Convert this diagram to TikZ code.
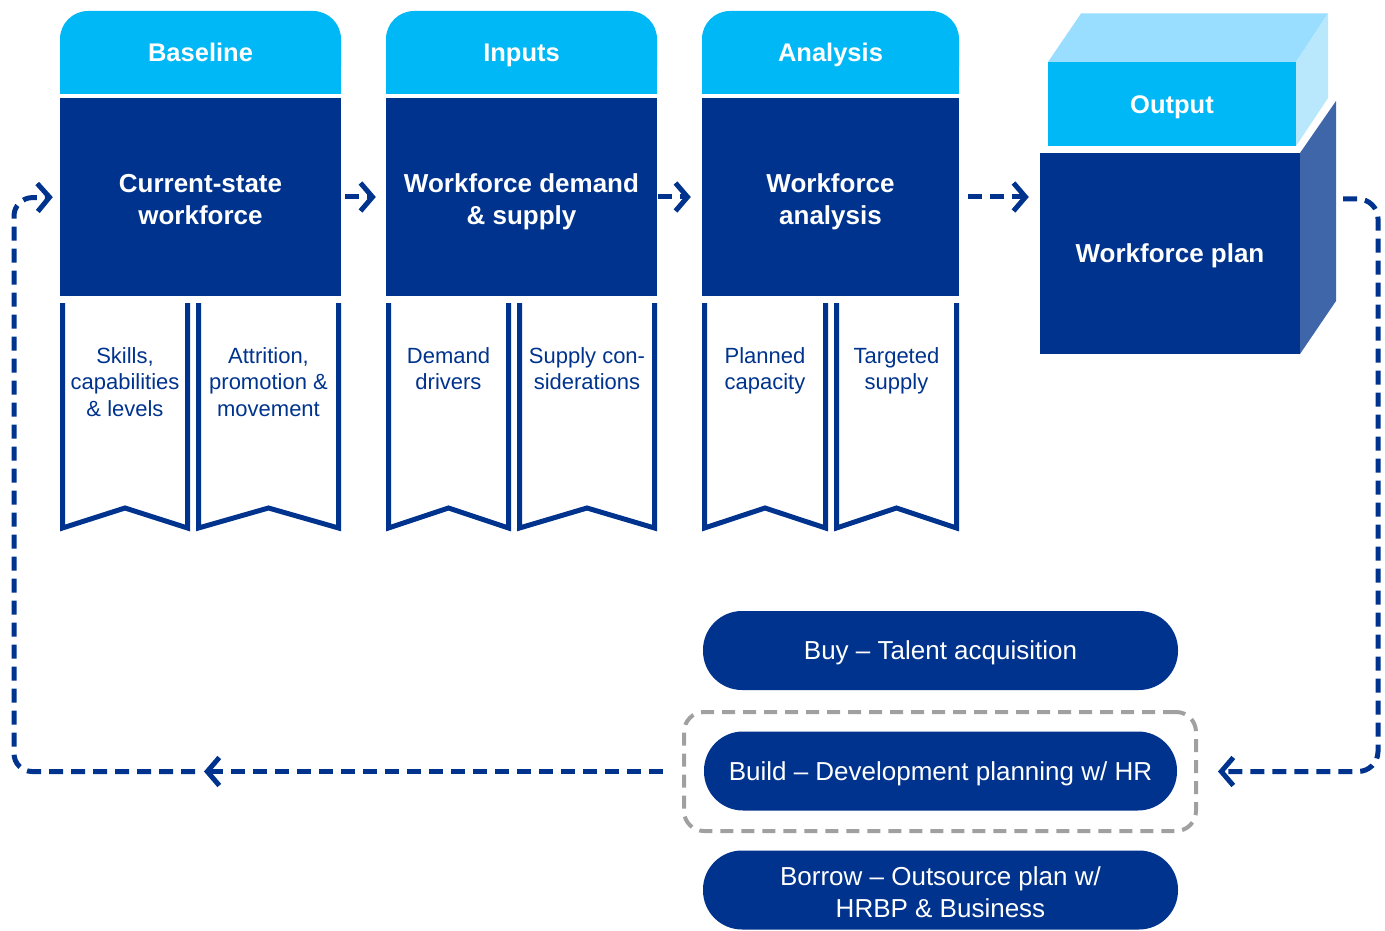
\documentclass[tikz,border=0pt]{standalone}
\usepackage{fontspec}
\setmainfont{Liberation Sans}
\usetikzlibrary{arrows.meta}
\definecolor{kcyan}{HTML}{00B8F5}
\definecolor{kblue}{HTML}{00338D}
\definecolor{ktop}{HTML}{99DDFF}
\definecolor{kside}{HTML}{B9E7FC}
\definecolor{kplanside}{HTML}{4066AA}
\definecolor{kgray}{HTML}{A0A0A0}
\begin{document}
\begin{tikzpicture}[x=1pt,y=-1pt,
 tab/.style={fill=kcyan, rounded corners=28pt, minimum height=83pt, inner sep=0pt, text=white, font=\bfseries\fontsize{25.5}{32}\selectfont, text height=18.5pt, text depth=0pt},
 dbox/.style={fill=kblue, minimum height=198pt, inner sep=0pt, text=white, align=center, font=\bfseries\fontsize{26}{32}\selectfont},
 ribbon/.style={draw=kblue, line width=5pt, miter limit=10},
 rtext/.style={anchor=north, inner sep=0pt, align=center, text=kblue, font=\fontsize{22}{26.5}\selectfont},
 pill/.style={fill=kblue, rounded corners=39pt, minimum width=475pt, minimum height=79pt, inner sep=0pt, text=white, align=center, font=\fontsize{26}{32}\selectfont},
 pillone/.style={pill, text height=18.5pt, text depth=0pt},
 flow/.style={draw=kblue, line width=5pt, dash pattern=on 14pt off 8pt, -{Straight Barb[length=12pt,width=28pt]}},
 grayframe/.style={draw=kgray, line width=4pt, dash pattern=on 13pt off 8pt, rounded corners=20pt, minimum width=512pt, minimum height=119pt, inner sep=0pt},
]
\useasboundingbox (0,0) rectangle (1385,931);

% ---------- Baseline column
\fill[kcyan] (60,52) rectangle (341,94);
\node[tab, minimum width=281pt] (t1) at (200.5,52.5) {Baseline};
\node[dbox, minimum width=281pt] (b1) at (200.5,197) {\strut Current-state\\\smash{workforce}};
\draw[ribbon] (62.5,303) -- (62.5,528) -- (125,508) -- (187.5,528) -- (187.5,303);
\node[rtext] (s1) at (125,347) {Skills,\\capabilities\\\& levels};
\draw[ribbon] (198.5,303) -- (198.5,528) -- (268.5,508) -- (338.5,528) -- (338.5,303);
\node[rtext] (s2) at (268.5,347) {Attrition,\\promotion \&\\movement};

% ---------- Inputs column
\fill[kcyan] (386,52) rectangle (657,94);
\node[tab, minimum width=271pt] (t2) at (521.5,52.5) {Inputs};
\node[dbox, minimum width=271pt] (b2) at (521.5,197) {\strut Workforce demand\\\smash{\& supply}};
\draw[ribbon] (388.5,303) -- (388.5,528) -- (448.5,508) -- (508.5,528) -- (508.5,303);
\node[rtext] (s3) at (448.5,347) {Demand\\drivers};
\draw[ribbon] (519.5,303) -- (519.5,528) -- (587,508) -- (654.5,528) -- (654.5,303);
\node[rtext] (s4) at (587,347) {Supply con-\\siderations};

% ---------- Analysis column
\fill[kcyan] (702,52) rectangle (959,94);
\node[tab, minimum width=257pt] (t3) at (830.5,52.5) {Analysis};
\node[dbox, minimum width=257pt] (b3) at (830.5,197) {\strut Workforce\\\smash{analysis}};
\draw[ribbon] (704.5,303) -- (704.5,528) -- (765,508) -- (825.5,528) -- (825.5,303);
\node[rtext] (s5) at (765,347) {Planned\\capacity};
\draw[ribbon] (836.5,303) -- (836.5,528) -- (896.5,508) -- (956.5,528) -- (956.5,303);
\node[rtext] (s6) at (896.5,347) {Targeted\\supply};

% ---------- Output block
\fill[ktop] (1048,62) -- (1081,13.5) -- (1328,13.5) -- (1296,62) -- cycle;
\fill[kside] (1296,62) -- (1328,13.5) -- (1328,98) -- (1296,146) -- cycle;
\node[tab, rounded corners=0pt, minimum width=248pt, minimum height=84pt] (out) at (1172,104) {Output};
\fill[kplanside] (1300,153) -- (1336,101) -- (1336,301) -- (1300,354) -- cycle;
\node[dbox, minimum width=260pt, minimum height=201pt, text height=18.5pt, text depth=0pt] (plan) at (1170,253.5) {Workforce plan};

% ---------- Options
\node[pillone] (buy) at (940.5,650.5) {Buy -- Talent acquisition};
\node[grayframe] (gray) at (940,771.5) {};
\node[pillone, minimum width=473pt] (build) at (940.5,771) {Build -- Development planning w/ HR};
\node[pill, text height=54.5pt, text depth=0pt] (borrow) at (940.5,890) {Borrow -- Outsource plan w/\\HRBP \& Business};

% ---------- Flow connectors
\draw[flow, shorten <=4pt, shorten >=10pt] (b1.east) -- (b2.west);
\draw[flow, shorten <=1pt, shorten >=11pt] (b2.east) -- (b3.west);
\draw[flow, shorten <=9pt, shorten >=11pt] (b3.east) -- (b3.east -| plan.west);

\coordinate (rs) at (1343,199);
\coordinate (mid) at (204,771.5);
\draw[flow, rounded corners=20pt, shorten >=20pt] (rs) -- (1378,199) -- (1378,771.5) -- (gray.east);
\draw[flow, shorten <=19pt] (gray.west) -- (mid);
\draw[flow, rounded corners=18pt, shorten <=9pt, shorten >=7pt] (mid) -- (14,771.5) -- (14,198) -- (b1.west);
\end{tikzpicture}
\end{document}
